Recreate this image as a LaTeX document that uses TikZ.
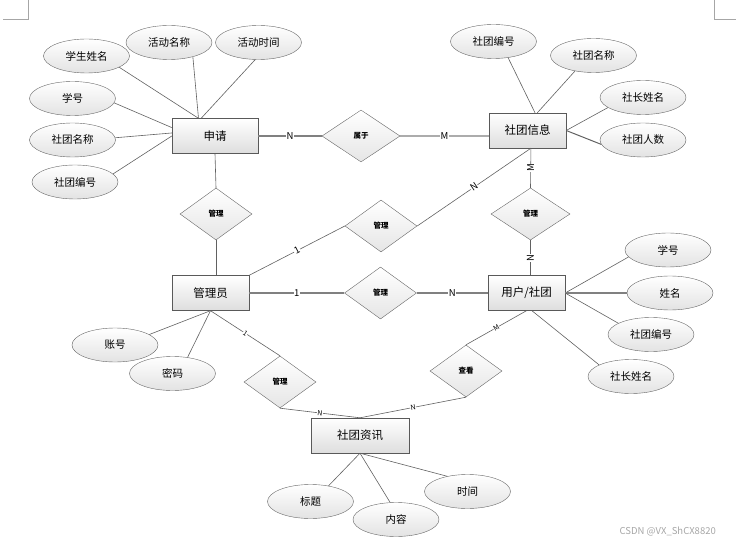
\documentclass[tikz,border=0pt]{standalone}
\usepackage{fontspec}
\setmainfont{Noto Sans CJK SC}
\usetikzlibrary{shapes.geometric,calc}
\tikzset{
  ent/.style={draw=black!65, top color=white, bottom color=black!13, minimum width=77pt, minimum height=35pt, inner sep=0pt, font=\fontsize{11.5}{12}\selectfont},
  attr/.style={ellipse, draw=black!60, top color=white, bottom color=black!11, minimum width=86pt, minimum height=34pt, inner sep=0pt, font=\fontsize{10.5}{12}\selectfont},
  rel/.style={diamond, draw=black!60, top color=white, bottom color=black!10, minimum width=72pt, minimum height=52pt, aspect=1.4, inner sep=0pt, font=\fontsize{7.5}{8}\selectfont\bfseries},
  conn/.style={draw=black!62, line width=0.6pt},
  link/.style={draw=black!50, line width=1.3pt},
  lab/.style={fill=white, inner sep=0.6pt, font=\fontsize{9.5}{10}\selectfont},
  slab/.style={fill=white, inner sep=0.3pt, font=\fontsize{7}{8}\selectfont, sloped},
  corner/.style={draw=black!35, line width=0.6pt}
}
\begin{document}
\begin{tikzpicture}[x=1pt,y=-1pt]
\useasboundingbox (0,0) rectangle (736,545);
% corner marks
\coordinate (tl1) at (3,19); \coordinate (tl2) at (28,19); \coordinate (tl3) at (28,0);
\coordinate (tr1) at (714,0); \coordinate (tr2) at (714,19); \coordinate (tr3) at (736,19);
\draw[corner] (tl1) -- (tl2) -- (tl3);
\draw[corner] (tr1) -- (tr2) -- (tr3);

% entities
\node[ent, minimum width=86pt] (sq) at (215,136) {申请};
\node[ent] (info) at (527.5,130.5) {社团信息};
\node[ent] (adm) at (210.5,293) {管理员};
\node[ent] (usr) at (526.5,293) {用户/社团};
\node[ent, minimum width=98pt] (news) at (360,435.5) {社团资讯};

% relations
\node[rel, minimum width=78pt] (sy) at (361,136) {属于};
\node[rel] (g1) at (216,214) {管理};
\node[rel] (g2) at (381,226) {管理};
\node[rel, minimum width=79pt] (g3) at (530.5,214) {管理};
\node[rel] (g4) at (380.5,293) {管理};
\node[rel] (g5) at (280,382) {管理};
\node[rel] (ck) at (466,371) {查看};

% attributes
\node[attr] (a1) at (86.5,56) {学生姓名};
\node[attr] (a2) at (169,42.5) {活动名称};
\node[attr] (a3) at (258.5,42.5) {活动时间};
\node[attr] (a4) at (72.5,98.5) {学号};
\node[attr] (a5) at (72.5,140) {社团名称};
\node[attr] (a6) at (75,182) {社团编号};
\node[attr] (b1) at (493.5,41.5) {社团编号};
\node[attr] (b2) at (593.5,55.5) {社团名称};
\node[attr] (b3) at (643,97.5) {社长姓名};
\node[attr] (b4) at (643,140) {社团人数};
\node[attr] (c1) at (668,250) {学号};
\node[attr] (c2) at (670,293) {姓名};
\node[attr] (c3) at (651,334.5) {社团编号};
\node[attr] (c4) at (631,376.5) {社长姓名};
\node[attr] (d1) at (115,345) {账号};
\node[attr] (d2) at (172.5,373.5) {密码};
\node[attr] (e1) at (310.5,501.5) {标题};
\node[attr] (e2) at (396,519.5) {内容};
\node[attr] (e3) at (467.5,491.5) {时间};

% attribute connectors
\draw[conn] (a1.-19) -- (sq.133);
\draw[conn] (a2.-31) -- (sq.133);
\draw[conn] (a3.-101) -- (sq.128);
\draw[conn] (a4.-6) -- (sq.169);
\draw[conn] (a5.3) -- (sq.176);
\draw[conn] (a6.12) -- (sq.180);
\draw[conn] (b1.-48) -- (info.67);
\draw[conn] (b2.-140) -- (info.61.5);
\draw[conn] (b3.-164) -- (info.east);
\draw[conn, line width=1pt] (b4.-174) -- (info.east);
\draw[conn] (c1.-170) -- (usr.east);
\draw[link] (c2.west) -- (usr.east);
\draw[conn] (c3.161) -- (usr.east);
\draw[conn] (c4.160) -- (usr.-73);
\draw[conn] (d1.17) -- (adm.south);
\draw[conn] (d2.47) -- (adm.south);
\draw[conn] (e1.41.5) -- (news.south);
\draw[conn] (e2.109) -- (news.south);
\draw[conn] (e3.143) -- (news.south);

% relationship connectors
\draw[link] (sq.east) -- node[lab] {N} (sy.west);
\draw[link] (sy.east) -- node[lab] {M} (info.188);
\draw[conn] (sq.south) -- (g1.north);
\draw[conn] (g1.south) -- (g1.south |- adm.north);
\draw[conn] (adm.north east) -- node[lab, sloped] {1} (g2.west);
\draw[conn] (g2.east) -- node[lab, sloped] {N} (info.-79);
\draw[conn] (info.-79) -- node[lab, rotate=90] {M} (g3.north);
\draw[conn] (g3.south) -- node[lab, rotate=90] {N} (g3.south |- usr.north);
\draw[link] (adm.east) -- node[lab] {1} (g4.west);
\draw[link] (g4.east) -- node[lab] {N} (usr.west);
\draw[conn] (adm.south) -- node[slab] {1} (g5.north);
\draw[conn] (g5.south) -- node[slab] {N} (news.north);
\draw[conn] (usr.south) -- node[slab] {M} (ck.north);
\draw[conn] (ck.south) -- node[slab] {N} (news.north);

% watermark
\node[font=\fontsize{9.5}{10}\selectfont, text=black!35, anchor=east, inner sep=0pt] (wm) at (716,532) {CSDN @VX\_ShCX8820};
\end{tikzpicture}
\end{document}
